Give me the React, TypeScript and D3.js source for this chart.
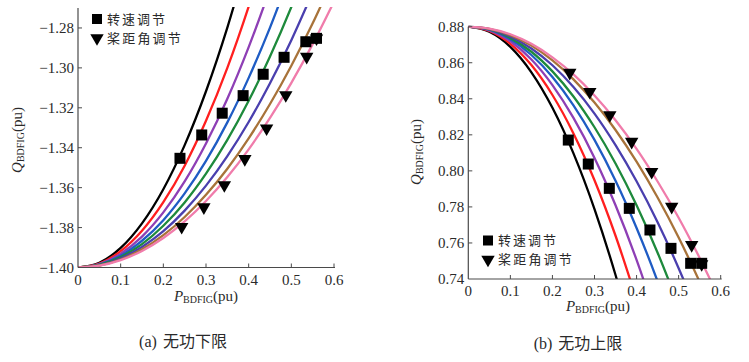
import React from 'react';
import * as d3 from 'd3';

// P grid (pu) shared by all curves
const pGrid = [0, 0.05, 0.1, 0.15, 0.2, 0.25, 0.3, 0.35, 0.4, 0.45, 0.5, 0.55, 0.6];

const curveColors = ['#000000', '#ff1f1f', '#8e3fb5', '#1f5cc4', '#1e8a3c', '#4a3fae', '#a8733a', '#f07cab'];

// (a) lower reactive limit, Q values on pGrid for each curve
const lowerBlack = [-1.4, -1.3976, -1.3902, -1.3779, -1.3608, -1.3387, -1.3117, -1.2798, -1.243];
const lowerRed = [-1.4, -1.398, -1.3918, -1.3816, -1.3673, -1.349, -1.3265, -1.3, -1.2693, -1.2346];
const lowerPurple = [-1.4, -1.3983, -1.3931, -1.3845, -1.3724, -1.3569, -1.3379, -1.3155, -1.2896, -1.2603, -1.2275];
const lowerBlue = [-1.4, -1.3985, -1.3941, -1.3866, -1.3763, -1.3629, -1.3466, -1.3273, -1.305, -1.2798, -1.2516];
const lowerGreen = [-1.4, -1.3987, -1.3948, -1.3883, -1.3791, -1.3674, -1.353, -1.3361, -1.3165, -1.2943, -1.2695, -1.2421];
const lowerIndigo = [-1.4, -1.3989, -1.3954, -1.3897, -1.3818, -1.3715, -1.359, -1.3442, -1.3271, -1.3077, -1.2861, -1.2621];
const lowerBrown = [-1.4, -1.399, -1.396, -1.3909, -1.3838, -1.3747, -1.3636, -1.3505, -1.3353, -1.3181, -1.2989, -1.2777, -1.2544];
const lowerPink = [-1.4, -1.3991, -1.3963, -1.3917, -1.3852, -1.3769, -1.3667, -1.3547, -1.3408, -1.3251, -1.3075, -1.2881, -1.2668];

const lowerSpeedP = [0.239, 0.29, 0.338, 0.387, 0.434, 0.483, 0.534, 0.559];
const lowerSpeedQ = [-1.3453, -1.3336, -1.3227, -1.3139, -1.3032, -1.2947, -1.2869, -1.2852];
const lowerPitchP = [0.243, 0.295, 0.343, 0.391, 0.442, 0.487, 0.536, 0.559];
const lowerPitchQ = [-1.3796, -1.3698, -1.3587, -1.3456, -1.3303, -1.3136, -1.2944, -1.2852];

// (b) upper reactive limit
const upperBlack = [0.88, 0.8772, 0.8688, 0.8547, 0.835, 0.8097, 0.7788, 0.7422, 0.7];
const upperRed = [0.88, 0.8776, 0.8705, 0.8587, 0.8421, 0.8208, 0.7948, 0.764, 0.7285];
const upperPurple = [0.88, 0.878, 0.8719, 0.8618, 0.8476, 0.8294, 0.8072, 0.7809, 0.7506, 0.7162];
const upperBlue = [0.88, 0.8783, 0.873, 0.8643, 0.8521, 0.8364, 0.8172, 0.7945, 0.7683, 0.7387, 0.7055];
const upperGreen = [0.88, 0.8785, 0.8738, 0.8661, 0.8552, 0.8413, 0.8242, 0.8041, 0.7809, 0.7546, 0.7251];
const upperIndigo = [0.88, 0.8787, 0.8746, 0.8679, 0.8586, 0.8465, 0.8318, 0.8143, 0.7942, 0.7715, 0.746, 0.7179];
const upperBrown = [0.88, 0.8788, 0.8753, 0.8695, 0.8613, 0.8508, 0.8379, 0.8227, 0.8051, 0.7852, 0.763, 0.7384, 0.7115];
const upperPink = [0.88, 0.8789, 0.8758, 0.8705, 0.863, 0.8535, 0.8418, 0.8281, 0.8122, 0.7941, 0.774, 0.7517, 0.7274];

const upperSpeedP = [0.2377, 0.2852, 0.3352, 0.3827, 0.4318, 0.4818, 0.5286, 0.5548];
const upperSpeedQ = [0.8171, 0.8038, 0.7903, 0.7792, 0.7672, 0.757, 0.7487, 0.7487];
const upperPitchP = [0.2412, 0.2888, 0.3364, 0.3884, 0.4359, 0.4835, 0.531, 0.5548];
const upperPitchQ = [0.8545, 0.8439, 0.831, 0.8162, 0.7995, 0.7801, 0.7589, 0.7483];

const xTicks = [0, 0.1, 0.2, 0.3, 0.4, 0.5, 0.6];
const lowerYTicks = [-1.4, -1.38, -1.36, -1.34, -1.32, -1.3, -1.28];
const upperYTicks = [0.74, 0.76, 0.78, 0.8, 0.82, 0.84, 0.86, 0.88];

const legendLabels = ['转速调节', '桨距角调节'];
const captionTags = ['(a)', '(b)'];
const captionTexts = ['无功下限', '无功上限'];

const SERIF = '"Liberation Serif", "Times New Roman", serif';
const CJK = '"Noto Sans CJK SC", sans-serif';
const AXIS = '#4a4a4a';
const TEXT = '#2a2a2a';

type PanelProps = {
  id: string;
  x0: number; x1: number; y0: number; y1: number;
  yDomain: [number, number];
  yTicks: number[];
  curves: number[][];
  speedP: number[]; speedQ: number[];
  pitchP: number[]; pitchQ: number[];
  legendX: number; legendY: number;
  yLabelX: number; yLabelY: number;
  xLabelX: number; xLabelY: number;
  captionTag: string; captionText: string; captionX: number; captionY: number;
  fmt: (v: number) => string;
};

function Panel(p: PanelProps) {
  const x = d3.scaleLinear().domain([0, 0.6]).range([p.x0, p.x1]);
  const y = d3.scaleLinear().domain(p.yDomain).range([p.y1, p.y0]);
  const line = d3.line<[number, number]>()
    .x(d => x(d[0]))
    .y(d => y(d[1]))
    .curve(d3.curveMonotoneX);
  const tri = d3.symbol(d3.symbolTriangle, 78)();
  const clipId = `clip-${p.id}`;
  const rowGap = 19;
  return (
    <g>
      <defs>
        <clipPath id={clipId}>
          <rect x={p.x0} y={p.y0 - 1} width={p.x1 - p.x0 + 2} height={p.y1 - p.y0 + 1} />
        </clipPath>
      </defs>
      <g clipPath={`url(#${clipId})`}>
        {p.curves.map((c, i) => (
          <path key={i}
            d={line(c.map((q, j) => [pGrid[j], q] as [number, number])) || ''}
            fill="none" stroke={curveColors[i]} strokeWidth={2.3} />
        ))}
      </g>
      {/* axes */}
      <line x1={p.x0} x2={p.x0} y1={p.y0} y2={p.y1} stroke={AXIS} strokeWidth={1.2} />
      <line x1={p.x0} x2={p.x1 + 1} y1={p.y1} y2={p.y1} stroke={AXIS} strokeWidth={1.2} />
      {xTicks.map(t => (
        <g key={`xt${t}`}>
          {t > 0 && <line x1={x(t)} x2={x(t)} y1={p.y1} y2={p.y1 - 4} stroke={AXIS} strokeWidth={1} />}
          <text x={x(t)} y={p.y1 + 17} textAnchor="middle" fontFamily={SERIF} fontSize={15} fill={TEXT}>{d3.format('.1~f')(t)}</text>
        </g>
      ))}
      {p.yTicks.map(t => (
        <g key={`yt${t}`}>
          {t !== p.yDomain[0] && <line x1={p.x0} x2={p.x0 + 4} y1={y(t)} y2={y(t)} stroke={AXIS} strokeWidth={1} />}
          <text x={p.x0 - 4} y={y(t) + 5} textAnchor="end" fontFamily={SERIF} fontSize={15} fill={TEXT}>{p.fmt(t)}</text>
        </g>
      ))}
      {/* markers */}
      {p.speedP.map((v, i) => (
        <rect key={`s${i}`} x={x(v) - 5.5} y={y(p.speedQ[i]) - 5.5} width={11} height={11} fill="#000" />
      ))}
      {p.pitchP.map((v, i) => (
        <path key={`t${i}`} d={tri || ''} transform={`translate(${x(v)},${y(p.pitchQ[i])}) rotate(180)`} fill="#000" />
      ))}
      {/* legend */}
      <rect x={p.legendX - 5} y={p.legendY - 5} width={10} height={10} fill="#000" />
      <text x={p.legendX + 10} y={p.legendY + 4.5} fontFamily={CJK} fontSize={13} letterSpacing={2} fill={TEXT}>{legendLabels[0]}</text>
      <path d={tri || ''} transform={`translate(${p.legendX},${p.legendY + rowGap}) rotate(180)`} fill="#000" />
      <text x={p.legendX + 10} y={p.legendY + rowGap + 4.5} fontFamily={CJK} fontSize={13} fill={TEXT} letterSpacing={2.2}>{legendLabels[1]}</text>
      {/* axis labels */}
      <text x={p.xLabelX} y={p.xLabelY} textAnchor="middle" fontFamily={SERIF} fontSize={15} fill={TEXT}>
        <tspan fontStyle="italic">P</tspan>
        <tspan fontSize={10} dy={2}>BDFIG</tspan>
        <tspan dy={-2}>(pu)</tspan>
      </text>
      <text transform={`translate(${p.yLabelX},${p.yLabelY}) rotate(-90)`} textAnchor="middle" fontFamily={SERIF} fontSize={15} fill={TEXT}>
        <tspan fontStyle="italic">Q</tspan>
        <tspan fontSize={10} dy={2}>BDFIG</tspan>
        <tspan dy={-2}>(pu)</tspan>
      </text>
      <text x={p.captionX} y={p.captionY} textAnchor="middle" fontSize={16} fill={TEXT}>
        <tspan fontFamily={SERIF}>{p.captionTag}</tspan>
        <tspan fontFamily={CJK} dx={6}>{p.captionText}</tspan>
      </text>
    </g>
  );
}

export default function App() {
  const minusFmt = (v: number) => d3.format('.2f')(v).replace('-', '−');
  return (
    <svg width={749} height={362} style={{ position: 'absolute', left: 0, top: 0, background: '#fff' }}>
      <rect width={749} height={362} fill="#fff" />
      <Panel id="a" x0={78} x1={334} y0={8} y1={267.5}
        yDomain={[-1.4, -1.27]} yTicks={lowerYTicks}
        curves={[lowerBlack, lowerRed, lowerPurple, lowerBlue, lowerGreen, lowerIndigo, lowerBrown, lowerPink]}
        speedP={lowerSpeedP} speedQ={lowerSpeedQ} pitchP={lowerPitchP} pitchQ={lowerPitchQ}
        legendX={97} legendY={19}
        yLabelX={22} yLabelY={140} xLabelX={206} xLabelY={301}
        captionTag={captionTags[0]} captionText={captionTexts[0]} captionX={183} captionY={347}
        fmt={minusFmt} />
      <Panel id="b" x0={468.3} x1={720.7} y0={26.7} y1={279}
        yDomain={[0.74, 0.88]} yTicks={upperYTicks}
        curves={[upperBlack, upperRed, upperPurple, upperBlue, upperGreen, upperIndigo, upperBrown, upperPink]}
        speedP={upperSpeedP} speedQ={upperSpeedQ} pitchP={upperPitchP} pitchQ={upperPitchQ}
        legendX={488} legendY={240.5}
        yLabelX={421} yLabelY={152} xLabelX={598} xLabelY={311}
        captionTag={captionTags[1]} captionText={captionTexts[1]} captionX={578} captionY={349}
        fmt={(v: number) => d3.format('.2f')(v)} />
    </svg>
  );
}
